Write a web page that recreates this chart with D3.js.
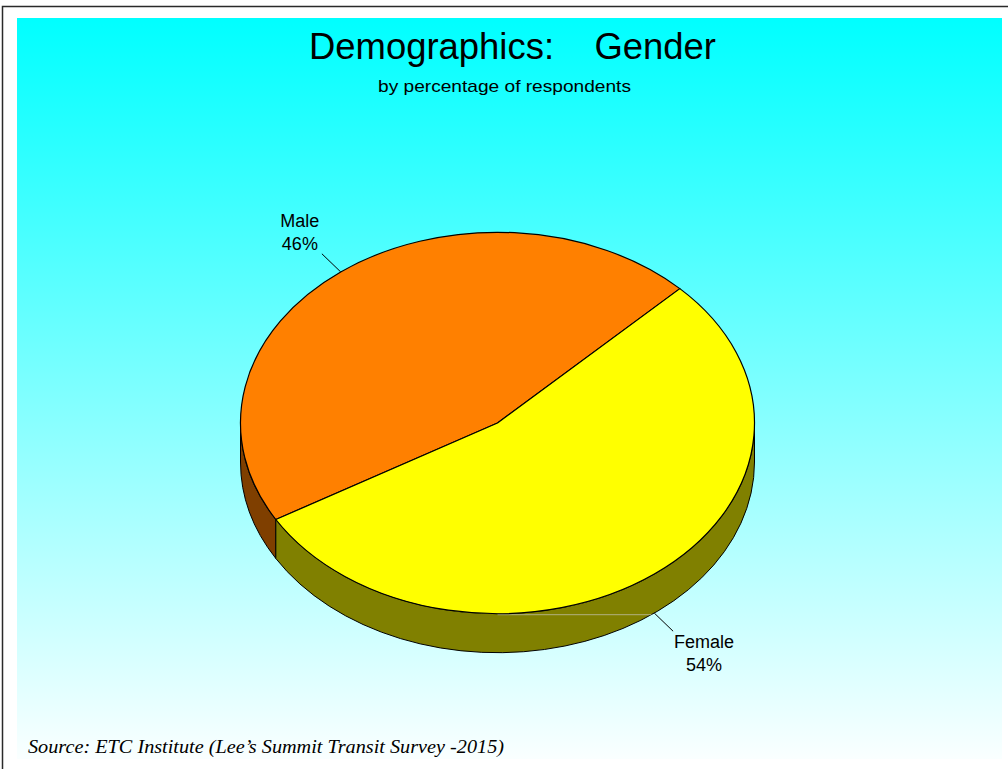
<!DOCTYPE html>
<html>
<head>
<meta charset="utf-8">
<script src="https://cdn.jsdelivr.net/npm/d3@7"></script>
<style>
  html, body { margin: 0; padding: 0; background: #fff; }
  svg { display: block; }
</style>
</head>
<body>
<svg id="chart" width="1008" height="769"></svg>
<script>
// ---- data ----
const categories = ["Male", "Female"];
const values = [46, 54];
const valueLabels = ["46%", "54%"];
const topColors = ["#FF8000", "#FFFF00"];
const sideColors = ["#7F3F00", "#808000"];
const titleText = "Demographics:    Gender";
const subtitleText = "by percentage of respondents";
const sourceText = "Source: ETC Institute (Lee\u2019s Summit Transit Survey -2015)";

// ---- layout ----
const W = 1008, H = 769;
const svg = d3.select("#chart");
const defs = svg.append("defs");
const grad = defs.append("linearGradient").attr("id", "bg")
  .attr("x1", 0).attr("y1", 0).attr("x2", 0).attr("y2", 1);
grad.append("stop").attr("offset", "0%").attr("stop-color", "#00FFFF");
grad.append("stop").attr("offset", "100%").attr("stop-color", "#FAFFFF");

// outer frame lines
svg.append("path").attr("d", "M2.5,769 L2.5,6.5 L1008,6.5")
  .attr("fill", "none").attr("stroke", "#2a2a2a").attr("stroke-width", 1.5);

// plot background
svg.append("rect").attr("x", 17).attr("y", 18).attr("width", 985).attr("height", 741)
  .attr("fill", "url(#bg)");

// titles
svg.append("text").attr("x", 309).attr("y", 59)
  .attr("font-family", "Liberation Sans, Arial, sans-serif").attr("font-size", 36)
  .attr("fill", "#000").style("white-space", "pre")
  .attr("textLength", 407).attr("lengthAdjust", "spacingAndGlyphs")
  .text(titleText);
svg.append("text").attr("x", 378).attr("y", 92)
  .attr("font-family", "Liberation Sans, Arial, sans-serif").attr("font-size", 17)
  .attr("fill", "#000")
  .attr("textLength", 253).attr("lengthAdjust", "spacingAndGlyphs")
  .text(subtitleText);
svg.append("text").attr("x", 28).attr("y", 753)
  .attr("font-family", "Liberation Serif, Times New Roman, serif").attr("font-size", 18)
  .attr("font-style", "italic").attr("fill", "#000")
  .attr("textLength", 476).attr("lengthAdjust", "spacingAndGlyphs")
  .text(sourceText);

// ---- 3D pie ----
const cx = 497.5, cy = 423, rx = 257, ry = 190.7, depth = 39;
const deg = Math.PI / 180;
const startA = -120.4 * deg;
const pie = d3.pie().sort(null).value(d => d.v)
  .startAngle(startA).endAngle(startA + 2 * Math.PI);
const arcs = pie(categories.map((c, i) => ({ c, v: values[i], i })));

const pt = (a, dy = 0, f = 1) => [cx + rx * f * Math.sin(a), cy - ry * f * Math.cos(a) + dy];

function topPath(d) {
  const p0 = pt(d.startAngle), p1 = pt(d.endAngle);
  const large = (d.endAngle - d.startAngle) > Math.PI ? 1 : 0;
  return `M${cx},${cy}L${p0[0]},${p0[1]}A${rx},${ry} 0 ${large} 1 ${p1[0]},${p1[1]}Z`;
}
function frontIntervals(s, e) {
  const out = [];
  for (let k = -2; k <= 2; k++) {
    const lo = Math.PI / 2 + 2 * Math.PI * k, hi = 3 * Math.PI / 2 + 2 * Math.PI * k;
    const a0 = Math.max(s, lo), a1 = Math.min(e, hi);
    if (a1 > a0 + 1e-6) out.push([a0, a1]);
  }
  return out;
}
function sidePath(a0, a1) {
  const p0 = pt(a0), p1 = pt(a1), q1 = pt(a1, depth), q0 = pt(a0, depth);
  return `M${p0[0]},${p0[1]}A${rx},${ry} 0 0 1 ${p1[0]},${p1[1]}` +
         `L${q1[0]},${q1[1]}A${rx},${ry} 0 0 0 ${q0[0]},${q0[1]}Z`;
}

const gPie = svg.append("g");
arcs.forEach(d => {
  frontIntervals(d.startAngle, d.endAngle).forEach(([a0, a1]) => {
    gPie.append("path").attr("d", sidePath(a0, a1))
      .attr("fill", sideColors[d.data.i]).attr("stroke", "#000").attr("stroke-width", 1)
      .attr("stroke-linejoin", "round");
  });
});
// faint seam line on the side wall
{
  const yb = cy + ry + 1;
  const c = (yb - cy - depth) / ry; // -cos(a)
  const aR = Math.PI - Math.acos(c);
  const xr = cx + rx * Math.sin(aR);
  gPie.append("line").attr("x1", cx).attr("y1", yb).attr("x2", xr).attr("y2", yb)
    .attr("stroke", "#b0b080").attr("stroke-width", 1);
}
gPie.selectAll("path.top").data(arcs).join("path").attr("class", "top")
  .attr("d", topPath)
  .attr("fill", d => topColors[d.data.i])
  .attr("stroke", "#000").attr("stroke-width", 1.2).attr("stroke-linejoin", "round");

// labels with leader lines
arcs.forEach(d => {
  const mid = (d.startAngle + d.endAngle) / 2;
  const front = Math.cos(mid) < 0;
  const dy = front ? depth : 0;
  const p0 = pt(mid, dy, 1.0), p1 = pt(mid, dy, 1.12);
  svg.append("line").attr("x1", p0[0]).attr("y1", p0[1]).attr("x2", p1[0]).attr("y2", p1[1])
    .attr("stroke", "#000").attr("stroke-width", 1);
  const left = Math.sin(mid) < 0;
  const tx = p1[0] + (left ? -22 : 31);
  const yFirst = front ? p1[1] + 17 : p1[1] - 26.5;
  const t = svg.append("text").attr("text-anchor", "middle")
    .attr("font-family", "Liberation Sans, Arial, sans-serif").attr("font-size", 18)
    .attr("fill", "#000");
  t.append("tspan").attr("x", tx).attr("y", yFirst).text(d.data.c);
  t.append("tspan").attr("x", tx).attr("y", yFirst + 22.5).text(valueLabels[d.data.i]);
});
</script>
</body>
</html>
